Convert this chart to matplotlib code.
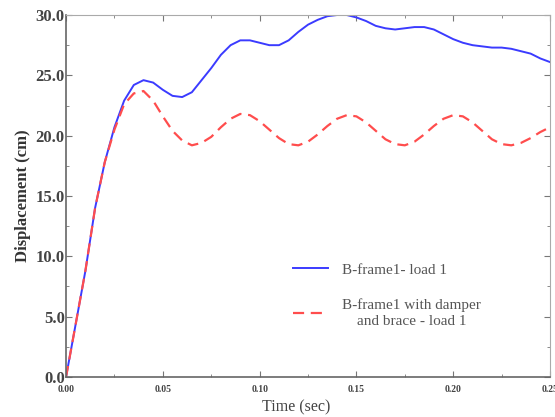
import matplotlib
matplotlib.use("Agg")
import matplotlib.pyplot as plt
from matplotlib.ticker import MultipleLocator, FormatStrFormatter

# time axis (sec)
time = [0.000, 0.005, 0.010, 0.015, 0.020, 0.025, 0.030, 0.035, 0.040, 0.045,
        0.050, 0.055, 0.060, 0.065, 0.070, 0.075, 0.080, 0.085, 0.090, 0.095,
        0.100, 0.105, 0.110, 0.115, 0.120, 0.125, 0.130, 0.135, 0.140, 0.145,
        0.150, 0.155, 0.160, 0.165, 0.170, 0.175, 0.180, 0.185, 0.190, 0.195,
        0.200, 0.205, 0.210, 0.215, 0.220, 0.225, 0.230, 0.235, 0.240, 0.245,
        0.250]

# B-frame1 - load 1
disp_frame = [0.0, 4.4, 8.8, 14.0, 17.8, 20.7, 22.9, 24.2, 24.6, 24.4,
              23.8, 23.3, 23.2, 23.6, 24.6, 25.6, 26.7, 27.5, 27.9, 27.9,
              27.7, 27.5, 27.5, 27.9, 28.6, 29.2, 29.6, 29.9, 30.0, 30.0,
              29.8, 29.5, 29.1, 28.9, 28.8, 28.9, 29.0, 29.0, 28.8, 28.4,
              28.0, 27.7, 27.5, 27.4, 27.3, 27.3, 27.2, 27.0, 26.8, 26.4,
              26.1]

# B-frame1 with damper and brace - load 1
disp_damper = [0.0, 4.4, 8.8, 14.0, 17.8, 20.5, 22.6, 23.5, 23.7, 22.9,
               21.6, 20.4, 19.6, 19.2, 19.4, 19.9, 20.7, 21.4, 21.8, 21.7,
               21.2, 20.5, 19.8, 19.3, 19.2, 19.5, 20.1, 20.8, 21.4, 21.7,
               21.6, 21.1, 20.4, 19.7, 19.3, 19.2, 19.5, 20.1, 20.8, 21.4,
               21.7, 21.6, 21.1, 20.4, 19.7, 19.3, 19.2, 19.4, 19.8, 20.3,
               20.7]

plt.rcParams["font.family"] = ["Liberation Serif", "DejaVu Serif"]

fig = plt.figure(figsize=(5.55, 4.17), dpi=100)
ax = fig.add_axes([0.119, 0.096, 0.872, 0.868])

ax.plot(time, disp_frame, color="#3b3bff", lw=1.4, label="B-frame1- load 1",
        solid_joinstyle="round")
ax.plot(time, disp_damper, color="#ff4d4d", lw=1.6, dashes=(5, 3),
        label="B-frame1 with damper\nand brace - load 1")

ax.set_xlim(0, 0.25)
ax.set_ylim(0, 30)
ax.xaxis.set_major_locator(MultipleLocator(0.05))
ax.xaxis.set_minor_locator(MultipleLocator(0.025))
ax.yaxis.set_major_locator(MultipleLocator(5))
ax.yaxis.set_minor_locator(MultipleLocator(2.5))
ax.xaxis.set_major_formatter(FormatStrFormatter("%.2f"))
ax.yaxis.set_major_formatter(FormatStrFormatter("%.1f"))
ax.tick_params(which="both", direction="in", top=True, right=True,
               color="#777777")
ax.tick_params(which="major", length=4)
ax.tick_params(which="minor", length=2)
ax.tick_params(axis="x", labelsize=7, pad=6)
ax.tick_params(axis="y", labelsize=12, pad=1)
for lbl in ax.get_yticklabels() + ax.get_xticklabels():
    lbl.set_fontweight("bold")
    lbl.set_color("#444444")
for side in ["top", "right"]:
    ax.spines[side].set_color("#aaaaaa")
for side in ["left", "bottom"]:
    ax.spines[side].set_color("#666666")
    ax.spines[side].set_linewidth(1.2)

ax.set_xlabel("Time (sec)", fontsize=11.5, color="#444444")
ax.xaxis.set_label_coords(0.475, -0.062)
ax.set_ylabel("Displacement (cm)", fontsize=12, fontweight="bold",
              color="#333333", labelpad=3)

leg = ax.legend(loc="upper left", bbox_to_anchor=(0.469, 0.315), frameon=False,
                fontsize=11, handlelength=2.3, handletextpad=0.9,
                labelspacing=1.4, borderpad=0, borderaxespad=0,
                labelcolor="#555555")
for txt in leg.get_texts():
    txt.set_multialignment("center")
    txt.set_linespacing(1.35)

fig.savefig("out.png", dpi=100)
